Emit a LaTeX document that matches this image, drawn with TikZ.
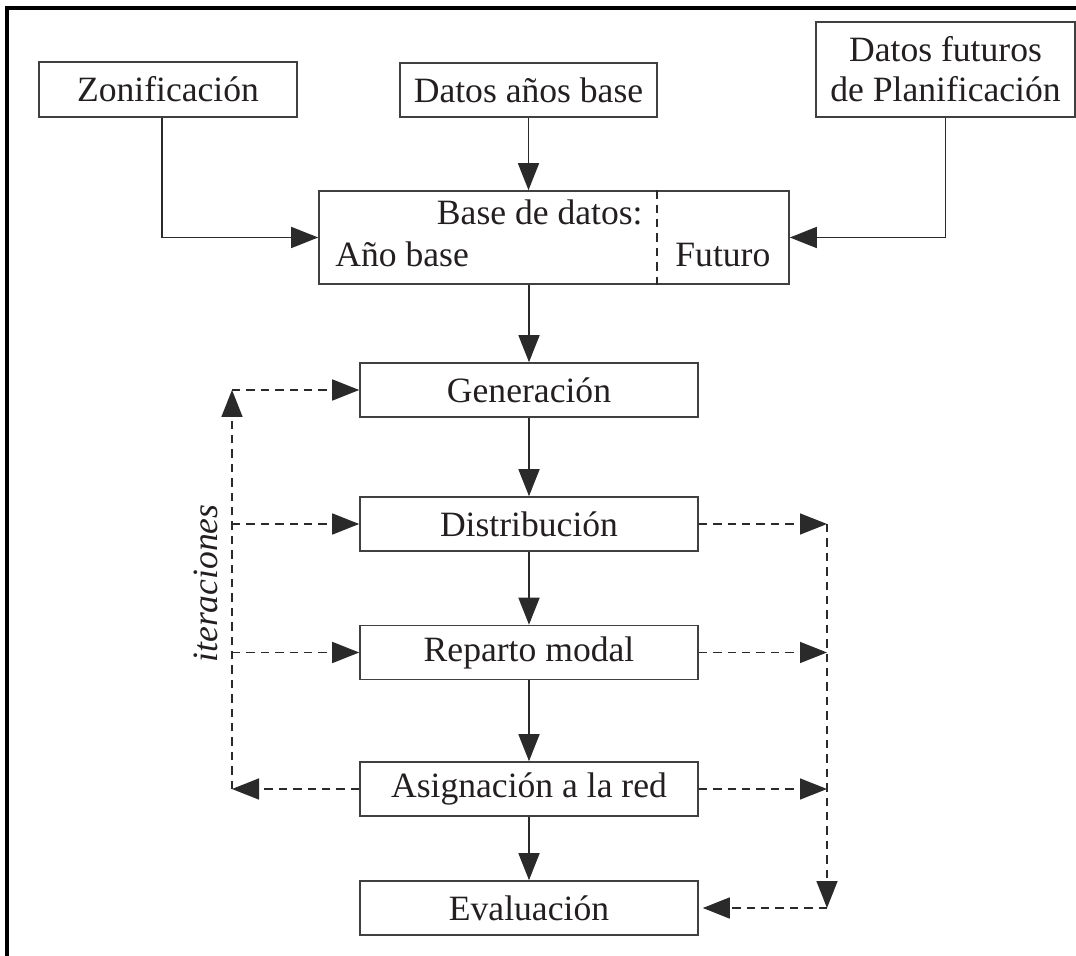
\documentclass[tikz,border=0pt]{standalone}
\usepackage{fontspec}
\setmainfont{Liberation Serif}
\usetikzlibrary{arrows.meta,calc}
\definecolor{txt}{HTML}{231F20}
\definecolor{boxc}{HTML}{404040}
\definecolor{linec}{HTML}{2A2A2A}
\tikzset{
  box/.style={draw=boxc, line width=0.8pt, rectangle, inner sep=0pt, text=txt,
    font=\fontsize{17.8}{20}\selectfont, align=center},
  mainbox/.style={box, minimum width=169pt, minimum height=27pt},
  txtlbl/.style={inner sep=0pt, text=txt, font=\fontsize{17.8}{20}\selectfont},
  conn/.style={draw=linec, line width=0.8pt, -{Triangle[length=13.5pt,width=10.5pt]}},
  dconn/.style={conn, dash pattern=on 4.2pt off 3pt},
  dline/.style={draw=linec, line width=0.8pt, dash pattern=on 4.2pt off 3pt},
}
\begin{document}
\begin{tikzpicture}[x=0.5pt,y=-0.5pt]
\useasboundingbox (0,0) rectangle (1076,956);
% frame
\draw[line width=1.8pt, black] (7,956) -- (7,8) -- (1076,8);
% top boxes
\node[box, minimum width=129pt, minimum height=27.5pt] (zon) at (168,89.5) {Zonificación};
\node[box, minimum width=128.5pt, minimum height=27pt] (dab) at (528.5,90) {Datos años base};
\node[box, minimum width=129.5pt, minimum height=47.5pt] (dfp) at (945.5,69.5) {Datos futuros\\[0pt]de Planificación};
% base de datos
\node[box, minimum width=235pt, minimum height=46.5pt] (bd) at (554,237.5) {};
\draw[dline] (bd.north -| 657,0) -- (bd.south -| 657,0);
\node[txtlbl, anchor=base east] (bdt) at (643,225) {Base de datos:};
\node[txtlbl, anchor=base west] (ab) at (335,267) {Año base};
\node[txtlbl, anchor=base west] (fu) at (675,267) {Futuro};
% main column
\node[mainbox] (gen) at (529,390) {Generación};
\node[mainbox] (dist) at (529,524) {Distribución};
\node[mainbox] (rep) at (529,652.5) {Reparto modal};
\node[mainbox] (asig) at (529,789) {Asignación a la red};
\node[mainbox] (eval) at (529,908) {Evaluación};
% solid connectors
\draw[conn] ([xshift=-3pt]zon.south) |- (bd.west);
\draw[conn] (dfp.south) |- (bd.east);
\draw[conn] (dab.south) -- (dab.south |- bd.north);
\draw[conn] (bd.south -| gen.north) -- (gen.north);
\draw[conn] (gen.south) -- (dist.north);
\draw[conn] (dist.south) -- (rep.north);
\draw[conn] (rep.south) -- (asig.north);
\draw[conn] (asig.south) -- (eval.north);
% left iteration loop
\coordinate (L) at (232,0);
\coordinate (R) at (827,0);
\draw[dconn] (asig.west) -- (asig.west -| L);
\draw[dconn] (asig.west -| L) -- (gen.west -| L);
\draw[dconn] (gen.west -| L) -- (gen.west);
\draw[dconn] (dist.west -| L) -- (dist.west);
\draw[dconn] (rep.west -| L) -- (rep.west);
\node[txtlbl, rotate=90, font=\fontsize{17.8}{20}\selectfont\itshape] (it) at (206,583.5) {iteraciones};
% right loop
\draw[dconn] (dist.east) -- (dist.east -| R);
\draw[dconn] (rep.east) -- (rep.east -| R);
\draw[dconn] (asig.east) -- (asig.east -| R);
\draw[dconn] (dist.east -| R) -- (eval.east -| R);
\draw[dconn, shorten >=2pt] (eval.east -| R) -- (eval.east);
\end{tikzpicture}
\end{document}
